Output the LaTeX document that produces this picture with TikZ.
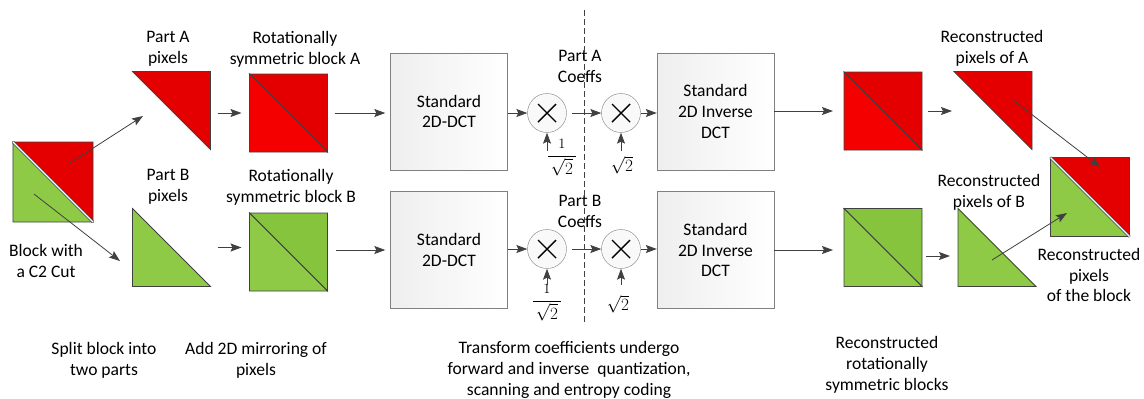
\documentclass[tikz,border=0pt]{standalone}
\usepackage{amsmath}
\usepackage{xcolor}
\usepackage{fontspec}
\setmainfont{Carlito}
\usepackage{tikz}
\usetikzlibrary{arrows.meta,positioning}

\definecolor{redtop}{RGB}{228,0,0}
\definecolor{redlow}{RGB}{244,0,0}
\definecolor{greentop}{RGB}{142,202,70}
\definecolor{greenlow}{RGB}{134,196,62}
\definecolor{edgegray}{RGB}{64,64,64}
\definecolor{boxgray}{RGB}{128,128,128}

% halves of a pixel block
\newcommand\upperhalf[2]{%
  \filldraw[fill=#2, draw=edgegray, line width=0.8bp] (#1.north west) -- (#1.north east) -- (#1.south east) -- cycle;}
\newcommand\lowerhalf[2]{%
  \filldraw[fill=#2, draw=edgegray, line width=0.8bp] (#1.north west) -- (#1.south west) -- (#1.south east) -- cycle;}
\newcommand\cutline[1]{%
  \draw[edgegray, line width=2.6bp] (#1.north west) -- (#1.south east);
  \draw[white, line width=1.1bp] (#1.north west) -- (#1.south east);}

\begin{document}
\begin{tikzpicture}[x=1bp, y=-1bp, font=\fontsize{17.6}{21}\selectfont,
  pixbox/.style={minimum size=78bp, inner sep=0pt, outer sep=0pt},
  dctbox/.style={draw=boxgray, left color=gray!13, right color=white, minimum width=117bp, minimum height=117bp, align=center, inner sep=0pt},
  mult/.style={circle, draw=boxgray, fill=gray!5, minimum size=39bp, inner sep=0pt, path picture={
    \draw[black, line width=1.4bp] ([shift={(-9bp,-9bp)}]path picture bounding box.center) -- ([shift={(9bp,9bp)}]path picture bounding box.center)
      ([shift={(-9bp,9bp)}]path picture bounding box.center) -- ([shift={(9bp,-9bp)}]path picture bounding box.center);}},
  lbl/.style={align=center, inner sep=0pt},
  gain/.style={inner sep=0pt, font=\fontsize{19}{22}\selectfont},
  flow/.style={draw=edgegray, line width=0.8bp, -{Stealth[length=11bp, width=8bp, inset=2bp]}}]
  \useasboundingbox (0,0) rectangle (1144,398);

  % pixel blocks
  \node[pixbox, minimum size=80bp] (blk) at (53,182) {};
  \node[pixbox] (pa) at (171.5,110.5) {};
  \node[pixbox] (pb) at (171.5,247.5) {};
  \node[pixbox] (sa) at (288.5,113) {};
  \node[pixbox] (sb) at (288.5,252) {};
  \node[pixbox] (ra) at (883,111) {};
  \node[pixbox] (rb) at (883,247.5) {};
  \node[pixbox] (rpa) at (993,110.5) {};
  \node[pixbox] (rpb) at (997,247.5) {};
  \node[pixbox, minimum size=79bp] (fin) at (1090,197) {};

  \lowerhalf{blk}{greentop} \upperhalf{blk}{redtop} \cutline{blk}
  \upperhalf{pa}{redtop}
  \lowerhalf{pb}{greentop}
  \upperhalf{sa}{redtop} \lowerhalf{sa}{redlow}
  \upperhalf{sb}{greenlow} \lowerhalf{sb}{greentop}
  \upperhalf{ra}{redtop} \lowerhalf{ra}{redlow}
  \upperhalf{rb}{greenlow} \lowerhalf{rb}{greentop}
  \upperhalf{rpa}{redtop}
  \lowerhalf{rpb}{greentop}
  \lowerhalf{fin}{greentop} \upperhalf{fin}{redtop} \cutline{fin}

  % transform stages
  \node[dctbox] (dcta) at (449,111.5) {Standard\\2D-DCT};
  \node[dctbox] (dctb) at (449,250) {Standard\\2D-DCT};
  \node[dctbox] (idcta) at (715.5,111.5) {Standard\\2D Inverse\\DCT};
  \node[dctbox] (idctb) at (715.5,250) {Standard\\2D Inverse\\DCT};
  \node[mult] (ma1) at (547,113) {};
  \node[mult] (ma2) at (621,113) {};
  \node[mult] (mb1) at (547,249) {};
  \node[mult] (mb2) at (621,249) {};
  \node[gain] (fa1) at (562,158) {$\displaystyle\frac{\scriptstyle 1}{\,\sqrt{2}\,}$};
  \node[gain] (fa2) at (622,165) {$\sqrt{2}$};
  \node[gain] (fb1) at (547,303) {$\displaystyle\frac{\scriptstyle 1}{\,\sqrt{2}\,}$};
  \node[gain] (fb2) at (618,304) {$\sqrt{2}$};

  % labels
  \node[lbl] (palbl) at (168,49) {Part A\\pixels};
  \node[lbl] (salbl) at (295,49) {Rotationally\\symmetric block A};
  \node[lbl] (pblbl) at (168,187) {Part B\\pixels};
  \node[lbl] (sblbl) at (291,187) {Rotationally\\symmetric block B};
  \node[lbl] (blklbl) at (46,261) {Block with\\a C2 Cut};
  \node[lbl] (splitlbl) at (104,360) {Split block into\\two parts};
  \node[lbl] (mirrlbl) at (256,360) {Add 2D mirroring of\\pixels};
  \node[lbl] (calbl) at (580,66) {Part A\\Coeffs};
  \node[lbl] (cblbl) at (580,211) {Part B\\Coeffs};
  \node[lbl] (codelbl) at (569,370) {Transform coefficients undergo\\forward and inverse\ \ quantization,\\scanning and entropy coding};
  \node[lbl] (ralbl) at (992,48) {Reconstructed\\pixels of A};
  \node[lbl] (rblbl) at (989,192) {Reconstructed\\pixels of B};
  \node[lbl] (finlbl) at (1089,275) {Reconstructed\\pixels\\of the block};
  \node[lbl] (reclbl) at (887,365) {Reconstructed\\rotationally\\symmetric blocks};

  % free arrow ends
  \coordinate (blkA) at (70,163);
  \coordinate (paIn) at (143,116);
  \coordinate (blkB) at (34,194);
  \coordinate (pbIn) at (120,261);
  \coordinate (rpaOut) at (1013,100);
  \coordinate (finA) at (1100,167);
  \coordinate (rpbOut) at (992,260);
  \coordinate (finB) at (1067,213);
  \coordinate (ma1in) at (547,151);
  \coordinate (ma2in) at (621,151);
  \coordinate (mb1in) at (547,285);
  \coordinate (mb2in) at (621,285);
  \coordinate (cuttop) at (584,10);
  \coordinate (cutbot) at (584,322);

  \draw[edgegray, line width=0.8bp, dash pattern=on 6bp off 3bp] (cuttop) -- (cutbot);

  % Arrows for the data flow
  \draw[flow] (blkA) -- (paIn);
  \draw[flow] (blkB) -- (pbIn);
  \draw[flow, shorten <=7bp, shorten >=8bp] (pa.east |- sa.west) -- (sa.west);
  \draw[flow, shorten <=7bp, shorten >=8bp] (pb.east) -- (pb.east -| sb.west);
  \draw[flow, shorten <=7bp, shorten >=5bp] (sa.east) -- (sa.east -| dcta.west);
  \draw[flow, shorten <=8bp, shorten >=5bp] (sb.east |- dctb.west) -- (dctb.west);
  \draw[flow] (dcta.east |- ma1.west) -- (ma1.west);
  \draw[flow] (dctb.east |- mb1.west) -- (mb1.west);
  \draw[flow, shorten <=5bp] (ma1) -- (ma2);
  \draw[flow, shorten <=5bp] (mb1) -- (mb2);
  \draw[flow] (ma2.east) -- (ma2.east -| idcta.west);
  \draw[flow] (mb2.east) -- (mb2.east -| idctb.west);
  \draw[flow] (ma1in) -- (ma1.south);
  \draw[flow] (ma2in) -- (ma2.south);
  \draw[flow] (mb1in) -- (mb1.south);
  \draw[flow] (mb2in) -- (mb2.south);
  \draw[flow, shorten >=11bp] (idcta.east |- ra.west) -- (ra.west);
  \draw[flow, shorten >=11bp] (idctb.east) -- (idctb.east -| rb.west);
  \draw[flow, shorten <=6bp, shorten >=2bp] (ra.east) -- (ra.east -| rpa.west);
  \draw[flow, shorten <=4bp, shorten >=8bp] ([yshift=-8.5bp]rb.east) -- ([yshift=-8.5bp]rb.east -| rpb.west);
  \draw[flow] (rpaOut) -- (finA);
  \draw[flow] (rpbOut) -- (finB);
\end{tikzpicture}
\end{document}
